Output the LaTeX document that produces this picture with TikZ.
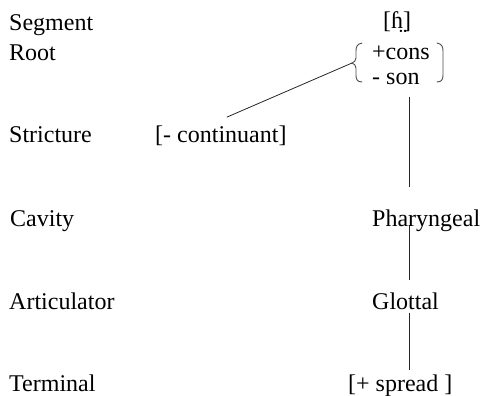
\documentclass[tikz,border=0pt]{standalone}
\usepackage{fontspec}
\setmainfont{Liberation Serif}
\usetikzlibrary{calc}
\begin{document}
\begin{tikzpicture}[x=1pt,y=-1pt,
  lab/.style={anchor=base west,inner sep=0pt,font=\fontsize{24}{28}\selectfont},
  link/.style={line width=0.8pt,draw=black!85},
  brace/.style={line width=0.9pt,draw=black!70,line cap=round,line join=round}]
\useasboundingbox (0,0) rectangle (483,396);

% tier names
\node[lab] (tSeg)  at (9,31)  {Segment};
\node[lab] (tRoot) at (9,61)  {Root};
\node[lab] (tStr)  at (9,143) {Stricture};
\node[lab] (tCav)  at (10,226) {Cavity};
\node[lab] (tArt)  at (9,309) {Articulator};
\node[lab] (tTer)  at (9,391) {Terminal};

% feature tree
\node[lab] (seg)  at (383,29)  {[ɦ̤]};
\node[lab] (cons) at (372,60)  {+cons};
\node[lab] (son)  at (372,85)  {- son};
\node[lab] (cont) at (155,143) {[- continuant]};
\node[lab] (pha)  at (372,227) {Pharyngeal};
\node[lab] (glo)  at (372,309) {Glottal};
\node[lab] (spr)  at (348,391) {[+ spread ]};

% root bundle brackets
\coordinate (tip) at (352,63);
\draw[brace] (362,43) .. controls (357,44) and (356,47) .. (356,51)
  -- (356,58) .. controls (356,61) and (354,62) .. (tip)
  .. controls (354,64) and (356,65) .. (356,68)
  -- (356,75) .. controls (356,79) and (357,82) .. (362,82);
\draw[brace] (437,43) .. controls (442,44) and (443,47) .. (443,51)
  -- (443,75) .. controls (443,79) and (442,82) .. (437,82);

% association lines
\coordinate (axis) at (409,0);
\draw[link] ($(cont.north)+(6,-9)$) -- (tip);
\draw[link] ($(son.base -| axis)+(0,12)$) -- ($(pha.base -| axis)+(0,-40)$);
\draw[link] ($(pha.base -| axis)+(0,-2)$) -- ($(glo.base -| axis)+(0,-29)$);
\draw[link] ($(glo.base -| axis)+(0,4)$) -- ($(spr.base -| axis)+(0,-21)$);
\end{tikzpicture}
\end{document}
